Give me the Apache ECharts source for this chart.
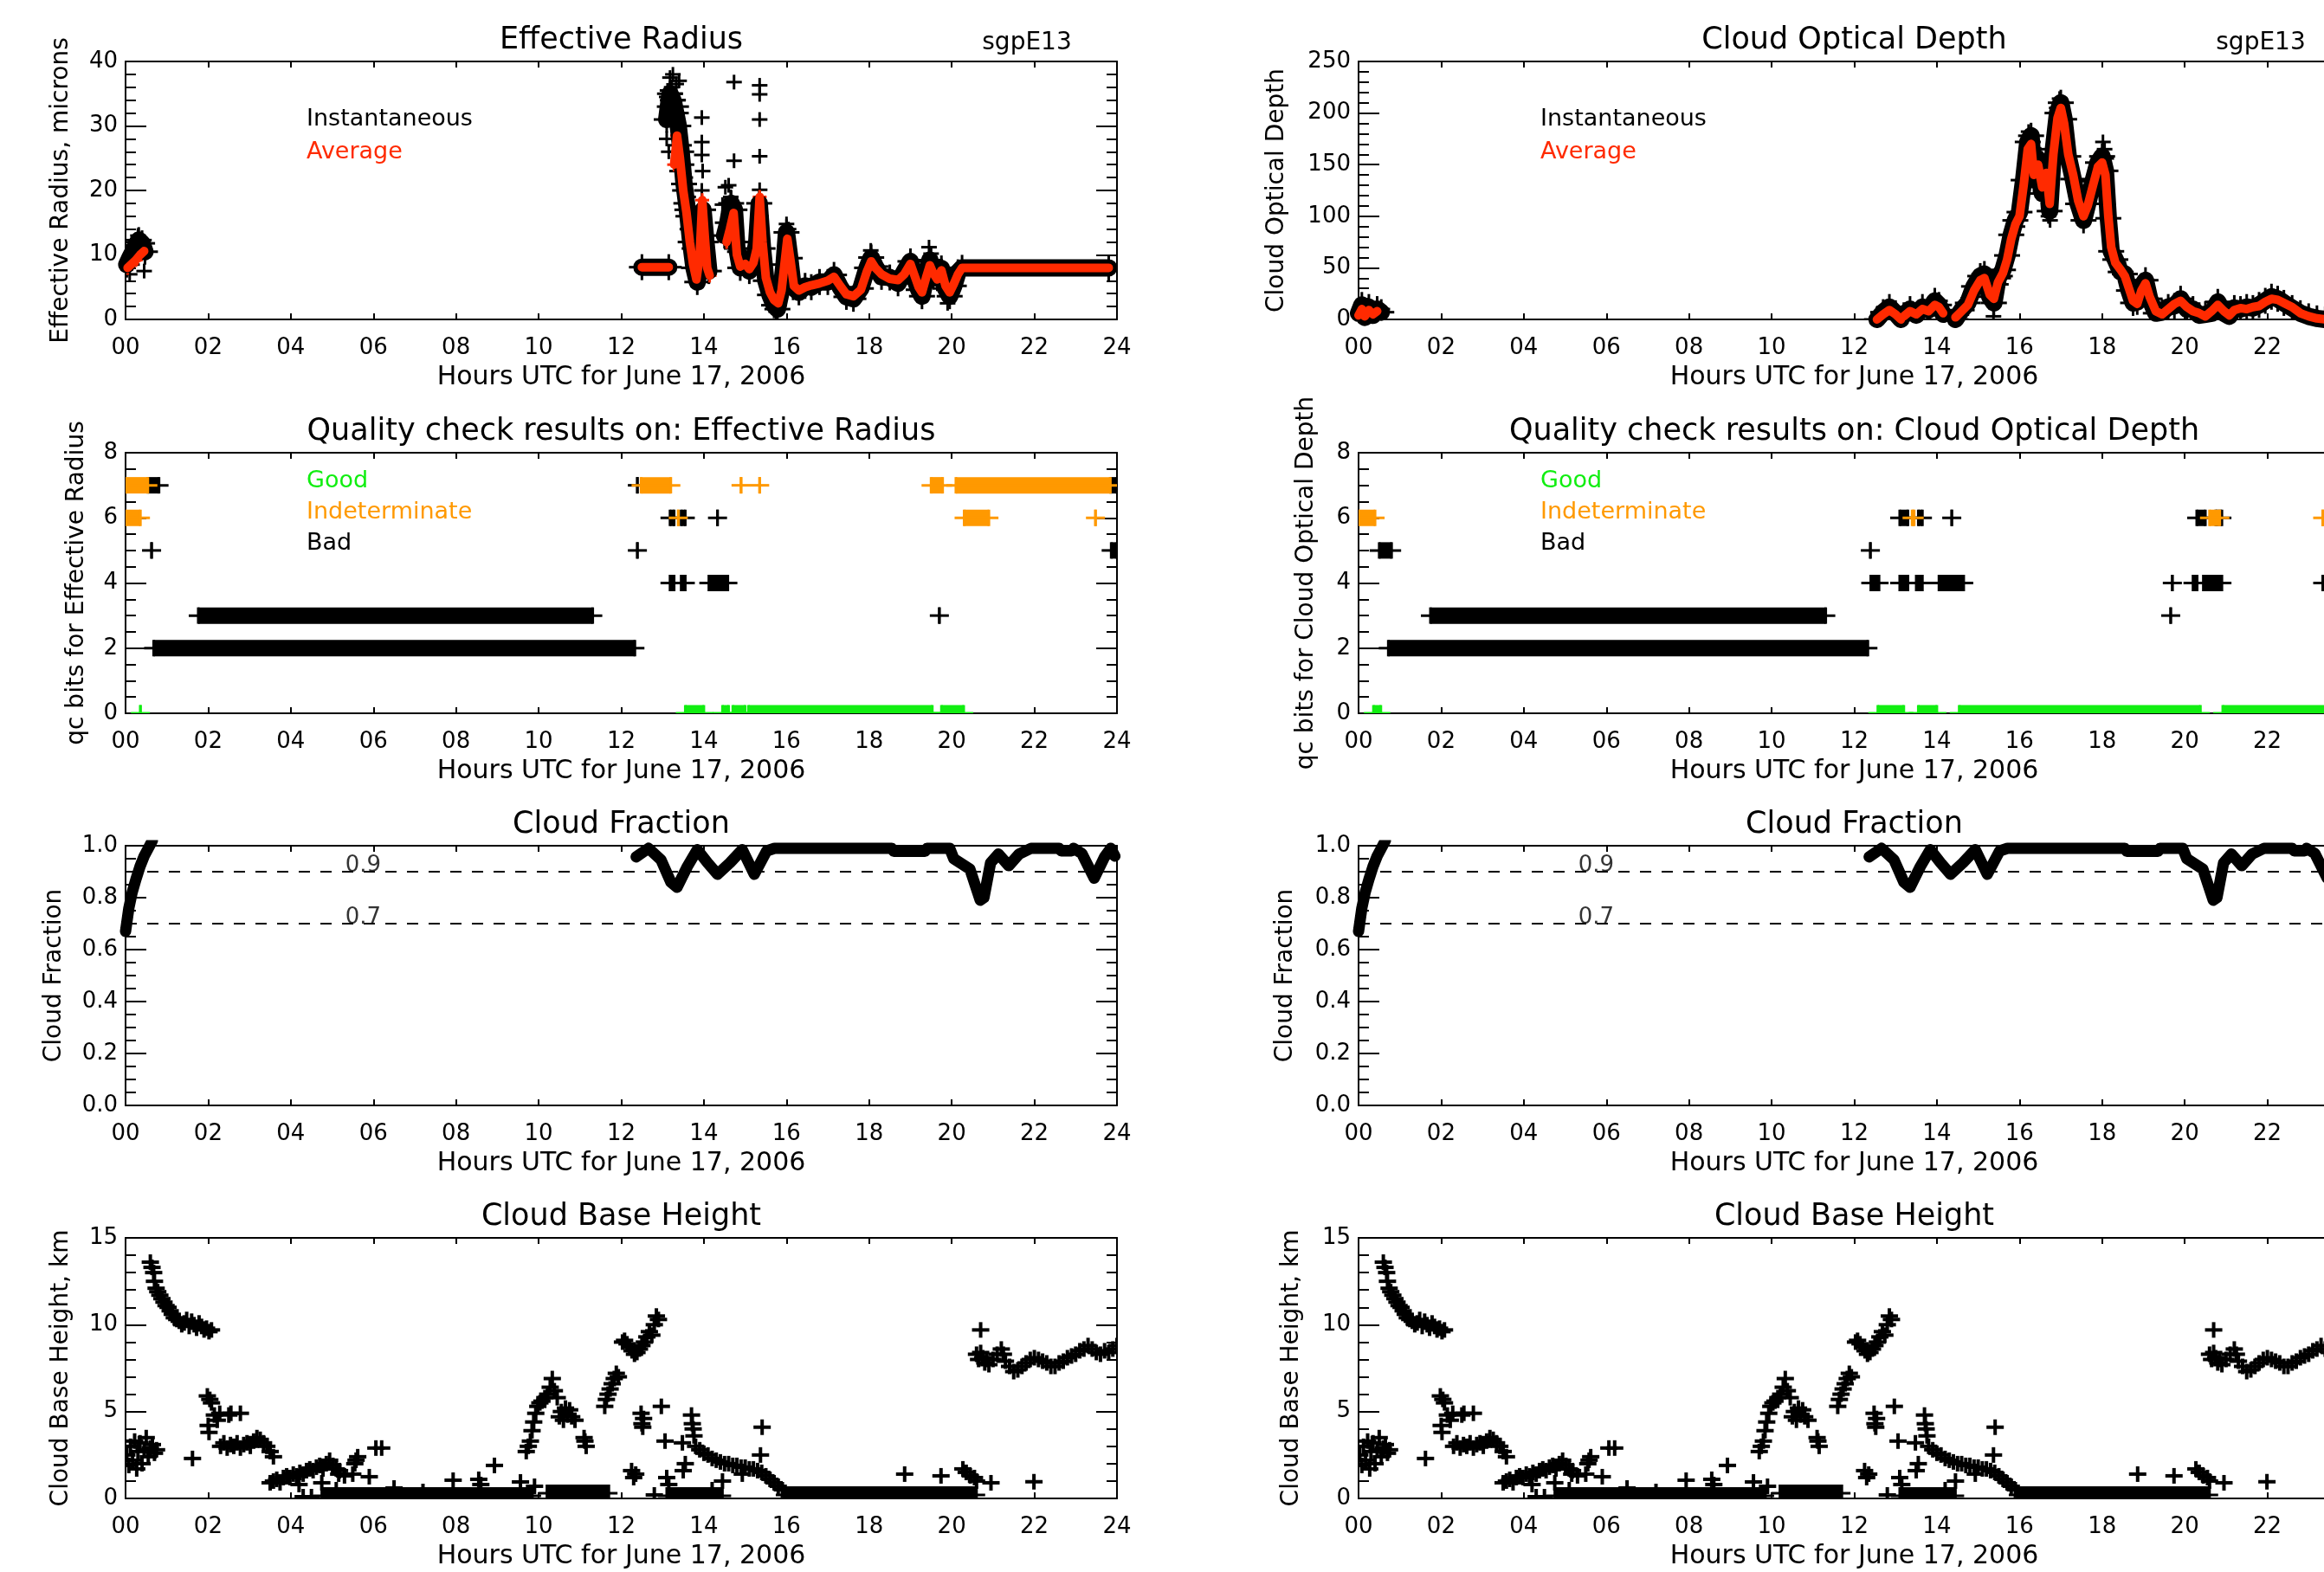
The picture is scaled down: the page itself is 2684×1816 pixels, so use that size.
<!DOCTYPE html>
<html>
<head>
<meta charset="utf-8">
<title>sgpE13 - June 17, 2006</title>
<script src="https://cdn.jsdelivr.net/npm/echarts@6/dist/echarts.min.js"></script>
<style>
html, body { margin: 0; padding: 0; background: #fff; }
#main { width: 2684px; height: 1816px; }
</style>
</head>
<body>
<div id="main"></div>
<script>
// ---- tick labels ----
const xTickLabels = ['00', '02', '04', '06', '08', '10', '12', '14', '16', '18', '20', '22', '24']

// ---- effective radius (microns), [hour, value] ----
const erInstSegments = [
  [[0.03, 8.5], [0.1, 9.5], [0.18, 10.5], [0.25, 11.5], [0.32, 12.3], [0.4, 11.8], [0.47, 10.5]],
  [[12.5, 8.1], [13.15, 8.1]],
  [[13.1, 31], [13.18, 35], [13.25, 34], [13.32, 32], [13.38, 30], [13.45, 26], [13.52, 21], [13.6, 17], [13.68, 12], [13.76, 8], [13.84, 5.8], [13.92, 10], [13.98, 17], [14.05, 12], [14.12, 7.5]],
  [[14.5, 13], [14.58, 15], [14.66, 18], [14.74, 17], [14.8, 11], [14.88, 8], [15.0, 8.8], [15.1, 7.5], [15.2, 9], [15.28, 12], [15.34, 18], [15.42, 11], [15.5, 6], [15.6, 3.8], [15.7, 2.2], [15.78, 1.6], [15.86, 4], [15.94, 8.5], [16.0, 13.5], [16.08, 9.5], [16.16, 5], [16.3, 4.2], [16.45, 5.2], [16.6, 5], [16.8, 5.8], [17.0, 5.8], [17.15, 6.9], [17.3, 5], [17.45, 3.5], [17.62, 3.2], [17.8, 4.8], [17.95, 8], [18.05, 9.6], [18.15, 8.2], [18.3, 6.6], [18.5, 6.5], [18.7, 5.6], [18.85, 7.4], [19.0, 9], [19.1, 6.4], [19.2, 4.6], [19.28, 3.6], [19.38, 6.8], [19.47, 9.2], [19.55, 6.8], [19.65, 6.4], [19.75, 7.9], [19.85, 4.8], [19.95, 3.6], [20.05, 5.2], [20.15, 7.3], [20.25, 8], [23.8, 8]]
]
const erInstCrosses = [
  [0.3, 13], [0.38, 12.2], [0.44, 11.5], [0.1, 7], [0.45, 7.5],
  [13.05, 33], [13.1, 34.5], [13.12, 35.5], [13.18, 37.5], [13.22, 36], [13.25, 38], [13.3, 35], [13.33, 36.5], [13.37, 34], [13.4, 37], [13.45, 33],
  [13.2, 32], [13.1, 28], [13.15, 26], [13.25, 30], [13.3, 27], [13.35, 23], [13.42, 20], [13.45, 18], [13.5, 16], [13.55, 22], [13.6, 14], [13.65, 11],
  [13.62, 19], [13.66, 16], [13.7, 13], [13.58, 24], [13.52, 27],
  [13.95, 31.3], [13.95, 27.5], [13.95, 25.5], [13.97, 23], [13.95, 20], [13.98, 15],
  [14.45, 17.8], [14.52, 20.5], [14.6, 20.8], [14.65, 19], [14.73, 36.8], [14.73, 24.6], [14.7, 13], [14.75, 10.5],
  [15.35, 36.3], [15.35, 34.9], [15.35, 31], [15.35, 25.3], [15.35, 20.1], [15.38, 16],
  [16.0, 14.8], [16.05, 14], [15.98, 11], [18.04, 10.7], [19.45, 11.2], [19.5, 10.2], [19.9, 2.5], [15.75, 1.2]
]
const erAvgSegments = [
  [[0.05, 8.0], [0.15, 8.6], [0.25, 9.2], [0.35, 10.0], [0.45, 10.6]],
  [[12.5, 8.1], [13.15, 8.1]],
  [[13.28, 24], [13.35, 28.5], [13.42, 25], [13.5, 20], [13.58, 16.5], [13.66, 12], [13.74, 8.5], [13.82, 6.2], [13.9, 10], [13.96, 18.5], [14.02, 13], [14.08, 8], [14.14, 6.8]],
  [[14.55, 12], [14.63, 14], [14.72, 16.5], [14.8, 10], [14.88, 8.2], [15.0, 8.6], [15.1, 7.8], [15.2, 8.8], [15.28, 11], [15.35, 19], [15.42, 12], [15.5, 6.5], [15.6, 4.2], [15.7, 3], [15.8, 2.5], [15.88, 4.5], [15.95, 8.5], [16.02, 12.5], [16.1, 9], [16.18, 5.2], [16.3, 4.5], [16.45, 5], [16.6, 5.3], [16.8, 5.6], [17.0, 6], [17.15, 6.6], [17.3, 5.2], [17.45, 3.9], [17.62, 3.6], [17.8, 4.6], [17.95, 7.5], [18.05, 9], [18.15, 8], [18.3, 7], [18.5, 6.3], [18.7, 6.1], [18.85, 7], [19.0, 8.6], [19.1, 6.8], [19.2, 5], [19.28, 4.2], [19.38, 6.5], [19.47, 8.4], [19.55, 7.2], [19.65, 6.2], [19.75, 7.6], [19.85, 5.2], [19.95, 4.2], [20.05, 5.5], [20.15, 7], [20.25, 8], [23.8, 8]]
]

// ---- cloud optical depth ----
const codInstSegments = [
  [[0.0, 6], [0.08, 14], [0.15, 2], [0.25, 12], [0.35, 4], [0.45, 10], [0.55, 7]],
  [[12.55, 0], [12.7, 7], [12.85, 12], [13.0, 6], [13.13, 0]],
  [[13.2, 4], [13.35, 10], [13.5, 4], [13.65, 12], [13.8, 9], [13.95, 18], [14.05, 14], [14.15, 5]],
  [[14.45, 0], [14.6, 9], [14.75, 16], [14.9, 32], [15.05, 42], [15.15, 44], [15.28, 22], [15.38, 16], [15.48, 40], [15.6, 48], [15.7, 62], [15.8, 82], [15.9, 96], [16.0, 104], [16.1, 135], [16.2, 172], [16.28, 178], [16.35, 135], [16.45, 155], [16.55, 122], [16.65, 146], [16.73, 105], [16.82, 165], [16.92, 200], [17.0, 210], [17.08, 194], [17.18, 158], [17.3, 136], [17.42, 112], [17.55, 96], [17.65, 112], [17.78, 134], [17.9, 152], [18.0, 158], [18.08, 144], [18.15, 98], [18.22, 66], [18.32, 58], [18.45, 46], [18.55, 44], [18.65, 28], [18.75, 16], [18.85, 17], [18.95, 32], [19.05, 38], [19.15, 20], [19.3, 6], [19.45, 7], [19.6, 12], [19.75, 13], [19.9, 20], [20.05, 10], [20.2, 10], [20.35, 4], [20.5, 5], [20.65, 6], [20.8, 17], [20.95, 6], [21.08, 3], [21.2, 11], [21.35, 10], [21.5, 12], [21.65, 11], [21.8, 14], [21.95, 18], [22.1, 22], [22.25, 20], [22.4, 16], [22.6, 11], [22.8, 6], [23.0, 3], [23.2, 1], [23.4, 0], [23.9, 0]]
]
const codInstCrosses = [
  [16.22, 182], [16.28, 176], [16.38, 162], [16.5, 160], [16.6, 150], [16.7, 100], [16.74, 96],
  [16.9, 205], [16.97, 214], [17.03, 210], [16.85, 178], [17.12, 182], [18.02, 172], [18.06, 165], [18.1, 156],
  [15.37, 3], [15.95, 90], [16.66, 116], [15.55, 34], [15.65, 42]
]
const codAvgSegments = [
  [[0.0, 4], [0.08, 10], [0.15, 3], [0.25, 9], [0.35, 5], [0.45, 8]],
  [[12.55, 0], [12.7, 5], [12.85, 9], [13.0, 5], [13.13, 0]],
  [[13.2, 3], [13.35, 8], [13.5, 5], [13.65, 10], [13.8, 8], [13.95, 14], [14.05, 12], [14.15, 6]],
  [[14.45, 2], [14.6, 8], [14.75, 14], [14.9, 28], [15.05, 38], [15.15, 40], [15.28, 24], [15.38, 20], [15.48, 36], [15.6, 45], [15.7, 58], [15.8, 78], [15.9, 92], [16.0, 100], [16.1, 130], [16.2, 165], [16.28, 170], [16.35, 140], [16.45, 150], [16.55, 128], [16.65, 142], [16.73, 112], [16.82, 160], [16.92, 195], [17.0, 205], [17.08, 190], [17.18, 160], [17.3, 140], [17.42, 115], [17.55, 100], [17.65, 110], [17.78, 130], [17.9, 148], [18.0, 152], [18.08, 140], [18.15, 100], [18.22, 70], [18.32, 55], [18.45, 48], [18.55, 42], [18.65, 30], [18.75, 18], [18.85, 15], [18.95, 28], [19.05, 35], [19.15, 22], [19.3, 8], [19.45, 5], [19.6, 10], [19.75, 15], [19.9, 18], [20.05, 12], [20.2, 8], [20.35, 6], [20.5, 3], [20.65, 8], [20.8, 14], [20.95, 8], [21.08, 4], [21.2, 9], [21.35, 11], [21.5, 10], [21.65, 12], [21.8, 13], [21.95, 17], [22.1, 20], [22.25, 19], [22.4, 16], [22.6, 12], [22.8, 6], [23.0, 3], [23.2, 1], [23.4, 0], [23.9, 0]]
]

// ---- qc bits: [start hour, end hour, bit] ----
const qcErBad = [[0.54, 0.81, 7], [12.39, 12.39, 7], [23.84, 24, 7], [13.18, 13.28, 6], [13.45, 13.55, 6], [14.33, 14.33, 6],
  [0.63, 0.63, 5], [12.39, 12.39, 5], [23.86, 24, 5], [13.18, 13.28, 4], [13.45, 13.55, 4], [14.12, 14.58, 4],
  [1.76, 11.31, 3], [19.7, 19.7, 3], [0.68, 12.33, 2]]
const qcErIndet = [[0, 0.54, 7], [12.48, 13.2, 7], [14.9, 14.9, 7], [15.35, 15.35, 7], [19.5, 19.78, 7], [20.1, 23.84, 7],
  [0, 0.36, 6], [13.38, 13.38, 6], [20.3, 20.9, 6], [23.48, 23.48, 6]]
const qcErGood = [[0.36, 0.36, 0], [13.55, 14.0, 0], [14.45, 14.6, 0], [14.7, 15.0, 0], [15.08, 19.53, 0], [19.75, 20.29, 0]]

const qcCodBad = [[0.5, 0.8, 5], [12.39, 12.39, 5], [13.1, 13.3, 6], [13.55, 13.65, 6], [14.36, 14.36, 6], [20.29, 20.5, 6], [20.75, 20.9, 6],
  [12.4, 12.6, 4], [13.1, 13.3, 4], [13.5, 13.65, 4], [14.05, 14.65, 4], [19.7, 19.7, 4], [20.2, 20.3, 4], [20.45, 20.9, 4], [23.34, 23.34, 4],
  [1.74, 11.31, 3], [19.66, 19.66, 3], [0.72, 12.33, 2]]
const qcCodIndet = [[0, 0.4, 6], [13.4, 13.45, 6], [20.6, 20.85, 6], [23.34, 23.34, 6]]
const qcCodGood = [[0.36, 0.54, 0], [12.57, 13.2, 0], [13.55, 14.0, 0], [14.54, 20.38, 0], [20.92, 24, 0]]

// ---- cloud fraction ----
const cfSegments = [
  [[0.0, 0.67], [0.08, 0.76], [0.16, 0.82], [0.25, 0.87], [0.35, 0.92], [0.45, 0.96], [0.55, 0.99], [0.65, 1.02]],
  [[12.36, 0.957], [12.66, 0.99], [12.96, 0.946], [13.2, 0.86], [13.35, 0.84], [13.6, 0.92], [13.84, 0.985], [14.09, 0.934], [14.33, 0.89], [14.63, 0.934], [14.93, 0.985], [15.22, 0.89], [15.52, 0.98], [15.71, 0.99], [18.55, 0.99], [18.6, 0.978], [19.35, 0.978], [19.4, 0.99], [19.95, 0.99], [20.05, 0.95], [20.44, 0.91], [20.69, 0.79], [20.78, 0.8], [20.94, 0.934], [21.13, 0.968], [21.38, 0.923], [21.63, 0.968], [21.92, 0.99], [22.6, 0.99], [22.65, 0.98], [22.9, 0.98], [22.95, 0.99], [23.15, 0.97], [23.45, 0.875], [23.7, 0.957], [23.85, 0.99], [23.95, 0.96]]
]
const cfThresholds = [0.9, 0.7]
const cfThresholdLabelHour = 5.75

// ---- cloud base height (km) ----
const cbhBands = [[4.75, 9.85, 0.15], [10.2, 11.7, 0.3], [13.1, 14.45, 0.15], [15.95, 20.6, 0.2]]
const cbhPoints = [
  [0.03, 2.5], [0.08, 1.9], [0.12, 3.0], [0.17, 2.2], [0.22, 3.3], [0.27, 1.7], [0.3, 2.7], [0.35, 3.2], [0.4, 2.0], [0.45, 2.8], [0.5, 3.5], [0.55, 2.4], [0.6, 2.9], [0.65, 3.1], [0.7, 2.6], [0.75, 2.8],
  [0.6, 13.6], [0.64, 13.3], [0.68, 13.0], [0.7, 12.5], [0.74, 12.1], [0.78, 11.9], [0.83, 11.7], [0.88, 11.5], [0.93, 11.3], [0.98, 11.1], [1.03, 11.0], [1.08, 10.8], [1.13, 10.6], [1.18, 10.4], [1.24, 10.3], [1.3, 10.2], [1.36, 10.0], [1.42, 10.1], [1.48, 10.3], [1.54, 9.9], [1.6, 10.2], [1.66, 10.0], [1.72, 9.8], [1.78, 10.1], [1.84, 9.9], [1.9, 9.7], [1.96, 9.8], [2.02, 9.6], [2.08, 9.7],
  [1.62, 2.3], [1.98, 5.9], [2.04, 5.7], [2.08, 5.5], [2.0, 4.2], [2.02, 3.8], [2.15, 4.8], [2.22, 4.5], [2.28, 4.9], [2.5, 4.8], [2.55, 4.9], [2.78, 4.9],
  [2.3, 3.0], [2.38, 3.2], [2.46, 2.9], [2.54, 3.1], [2.62, 3.0], [2.7, 3.2], [2.78, 2.9], [2.86, 3.1], [2.94, 3.2], [3.02, 3.0], [3.1, 3.3], [3.18, 3.5], [3.26, 3.4], [3.34, 3.2], [3.42, 3.0], [3.5, 2.7], [3.58, 2.4],
  [3.5, 0.9], [3.58, 1.0], [3.66, 1.1], [3.74, 0.9], [3.82, 1.2], [3.9, 1.3], [3.98, 1.2], [4.06, 1.4], [4.14, 1.3], [4.22, 1.5], [4.3, 1.4], [4.38, 1.6], [4.46, 1.7], [4.54, 1.6], [4.62, 1.8], [4.7, 1.9], [4.78, 1.7], [4.86, 2.0], [4.94, 2.2], [5.02, 1.9], [5.1, 1.7], [5.16, 1.4], [4.75, 0.9], [4.2, 0.8], [4.3, 0.1], [4.5, 0.1],
  [5.18, 1.6], [5.3, 1.3], [5.5, 1.4], [5.9, 1.25], [5.55, 2.0], [5.62, 2.4], [5.58, 2.2], [6.06, 2.9], [6.2, 2.9], [5.1, 0.5],
  [7.93, 1.05], [8.55, 1.1], [8.6, 0.8], [8.93, 1.9], [9.56, 0.95], [6.5, 0.6], [7.2, 0.4], [9.9, 0.7],
  [9.7, 2.7], [9.75, 3.0], [9.8, 3.3], [9.84, 3.9], [9.88, 4.4], [9.93, 4.9], [9.98, 5.3], [10.03, 5.5], [10.08, 5.6], [10.15, 5.8], [10.22, 6.0], [10.28, 6.4], [10.33, 6.9], [10.38, 6.2], [10.45, 5.8], [10.5, 4.7], [10.55, 5.0], [10.6, 4.5], [10.65, 5.2], [10.7, 4.8], [10.75, 5.1], [10.8, 4.7], [10.88, 4.5], [11.1, 3.5], [11.15, 3.0], [11.12, 3.3],
  [11.6, 5.3], [11.64, 5.7], [11.68, 6.0], [11.73, 6.3], [11.78, 6.6], [11.83, 6.9], [11.88, 7.2], [11.93, 7.0],
  [12.03, 9.0], [12.08, 9.1], [12.14, 8.9], [12.2, 8.7], [12.26, 8.5], [12.32, 8.3], [12.38, 8.4], [12.44, 8.6], [12.5, 8.8], [12.56, 9.0], [12.62, 9.3], [12.68, 9.6], [12.74, 9.4], [12.8, 10.0], [12.85, 10.5], [12.9, 10.3],
  [12.25, 1.6], [12.3, 1.2], [12.35, 1.4], [12.48, 4.9], [12.5, 4.3], [12.52, 4.1], [12.54, 4.6], [12.97, 5.3], [13.06, 3.3], [13.1, 1.2], [13.15, 0.8], [13.5, 1.6], [13.55, 2.0], [13.7, 4.8], [13.72, 4.3], [13.74, 4.0], [13.76, 3.6], [13.48, 3.2], [12.8, 0.2],
  [13.8, 3.0], [13.9, 2.8], [14.0, 2.6], [14.1, 2.5], [14.2, 2.3], [14.3, 2.2], [14.4, 2.1], [14.5, 2.0], [14.6, 2.0], [14.7, 1.9], [14.8, 1.9], [14.9, 1.8], [15.0, 1.8], [15.1, 1.7], [15.2, 1.7], [15.3, 1.6], [15.4, 1.5], [15.5, 1.3], [15.6, 1.1], [15.7, 0.9], [15.8, 0.7], [15.9, 0.5],
  [15.41, 4.1], [15.37, 2.5], [14.93, 1.4], [14.45, 1.0], [14.2, 0.5],
  [18.86, 1.4], [19.74, 1.3], [20.27, 1.7], [20.35, 1.5], [20.45, 1.3], [20.55, 1.2], [20.6, 1.0], [20.95, 0.9], [21.99, 0.96],
  [20.7, 9.7], [20.6, 8.3], [20.65, 8.0], [20.7, 8.4], [20.75, 8.1], [20.8, 7.8], [20.85, 8.0], [20.9, 7.7], [21.0, 8.0], [21.1, 8.3], [21.2, 8.6], [21.25, 8.3], [21.3, 7.9], [21.4, 7.6], [21.5, 7.3], [21.6, 7.4], [21.7, 7.6], [21.8, 7.8], [21.9, 8.0], [22.0, 8.1], [22.1, 8.0], [22.2, 7.9], [22.3, 7.8], [22.4, 7.6], [22.5, 7.6], [22.6, 7.8], [22.7, 7.9], [22.8, 8.1], [22.9, 8.2], [23.0, 8.3], [23.1, 8.5], [23.2, 8.6], [23.3, 8.8], [23.4, 8.6], [23.5, 8.4], [23.6, 8.3], [23.7, 8.5], [23.8, 8.4], [23.9, 8.6], [24.0, 8.8]
]

const FONT = 'DejaVu Sans, sans-serif'
const RED = '#ff2a00'
const ORANGE = '#ff9900'
const GREEN = '#11ee11'

// panel layout: column x, row y
const colLeft = [145, 1569]
const plotWidth = 1145
const rowTop = [71, 523, 977, 1430]
const rowHeight = [298, 301, 300, 301]

const panels = [
  { col: 0, row: 0, title: 'Effective Radius', yName: 'Effective Radius, microns', max: 40, step: 10, minor: 5, gap: 60 },
  { col: 1, row: 0, title: 'Cloud Optical Depth', yName: 'Cloud Optical Depth', max: 250, step: 50, minor: 5, gap: 80 },
  { col: 0, row: 1, title: 'Quality check results on: Effective Radius', yName: 'qc bits for Effective Radius', max: 8, step: 2, minor: 4, gap: 42 },
  { col: 1, row: 1, title: 'Quality check results on: Cloud Optical Depth', yName: 'qc bits for Cloud Optical Depth', max: 8, step: 2, minor: 4, gap: 46 },
  { col: 0, row: 2, title: 'Cloud Fraction', yName: 'Cloud Fraction', max: 1, step: 0.2, minor: 4, gap: 68, dec: 1 },
  { col: 1, row: 2, title: 'Cloud Fraction', yName: 'Cloud Fraction', max: 1, step: 0.2, minor: 4, gap: 70, dec: 1 },
  { col: 0, row: 3, title: 'Cloud Base Height', yName: 'Cloud Base Height, km', max: 15, step: 5, minor: 5, gap: 60 },
  { col: 1, row: 3, title: 'Cloud Base Height', yName: 'Cloud Base Height, km', max: 15, step: 5, minor: 5, gap: 63 }
]

function joinSegments (segs) {
  const out = []
  segs.forEach((s, i) => {
    if (i > 0) out.push([s[0][0], '-'])
    out.push(...s)
  })
  return out
}

// plus-shaped marks, clipped to the grid
function plusRenderer (w, h, t) {
  return function (params, api) {
    const p = api.coord([api.value(0), api.value(1)])
    const c = api.visual('color')
    return {
      type: 'group',
      children: [
        { type: 'rect', shape: { x: p[0] - w / 2, y: p[1] - t / 2, width: w, height: t }, style: { fill: c } },
        { type: 'rect', shape: { x: p[0] - t / 2, y: p[1] - h / 2, width: t, height: h }, style: { fill: c } }
      ]
    }
  }
}

// runs of overlapping plus marks: [start, end, level]
function bandRenderer (h, arm, t) {
  return function (params, api) {
    const a = api.coord([api.value(0), api.value(2)])
    const b = api.coord([api.value(1), api.value(2)])
    const c = api.visual('color')
    const ch = []
    if (b[0] - a[0] > 0.5) {
      ch.push({ type: 'rect', shape: { x: a[0], y: a[1] - h / 2, width: b[0] - a[0], height: h }, style: { fill: c } })
    }
    ch.push({ type: 'rect', shape: { x: a[0] - arm, y: a[1] - t / 2, width: b[0] - a[0] + 2 * arm, height: t }, style: { fill: c } })
    ch.push({ type: 'rect', shape: { x: a[0] - t / 2, y: a[1] - h / 2, width: t, height: h }, style: { fill: c } })
    ch.push({ type: 'rect', shape: { x: b[0] - t / 2, y: a[1] - h / 2, width: t, height: h }, style: { fill: c } })
    return { type: 'group', children: ch }
  }
}

const grids = []
const xAxes = []
const yAxes = []
const graphics = []

panels.forEach((p, i) => {
  grids.push({
    left: colLeft[p.col], top: rowTop[p.row], width: plotWidth, height: rowHeight[p.row],
    containLabel: false, outerBoundsMode: 'none'
  })
  const axisLine = { show: true, onZero: false, lineStyle: { color: '#000', width: 2 } }
  const xBase = {
    gridIndex: i, type: 'value', min: 0, max: 24, interval: 2,
    axisLine: axisLine,
    axisTick: { show: true, inside: true, length: 7, lineStyle: { color: '#000', width: 2 } },
    splitLine: { show: false }
  }
  xAxes.push(Object.assign({}, xBase, {
    position: 'bottom',
    axisLabel: { margin: 20, fontSize: 26, color: '#000', fontFamily: FONT, formatter: v => xTickLabels[Math.round(v / 2)] },
    name: 'Hours UTC for June 17, 2006',
    nameLocation: 'middle',
    nameGap: 52,
    nameTextStyle: { fontSize: 30, color: '#000', fontFamily: FONT }
  }))
  xAxes.push(Object.assign({}, xBase, { position: 'top', axisLabel: { show: false } }))

  const yBase = {
    gridIndex: i, type: 'value', min: 0, max: p.max, interval: p.step,
    axisLine: axisLine,
    axisTick: { show: true, inside: true, length: 24, lineStyle: { color: '#000', width: 2 } },
    minorTick: { show: true, splitNumber: p.minor, length: 12, lineStyle: { color: '#000', width: 2 } },
    splitLine: { show: false },
    minorSplitLine: { show: false }
  }
  yAxes.push(Object.assign({}, yBase, {
    position: 'left',
    axisLabel: { margin: 9, fontSize: 26, color: '#000', fontFamily: FONT, formatter: v => p.dec ? v.toFixed(p.dec) : String(v) },
    name: p.yName,
    nameLocation: 'middle',
    nameGap: p.gap,
    nameTextStyle: { fontSize: 28, color: '#000', fontFamily: FONT }
  }))
  yAxes.push(Object.assign({}, yBase, { position: 'right', axisLabel: { show: false } }))

  graphics.push({
    type: 'text',
    x: colLeft[p.col] + plotWidth / 2,
    y: rowTop[p.row] - 24,
    style: { text: p.title, font: '35px ' + FONT, fill: '#000', align: 'center', verticalAlign: 'middle', textAlign: 'center', textVerticalAlign: 'middle' }
  })
})

// station id and colour keys
const textItems = [
  { t: 'sgpE13', x: 1186, y: 50, c: '#000', align: 'center', size: 28 },
  { t: 'sgpE13', x: 2611, y: 50, c: '#000', align: 'center', size: 28 },
  { t: 'Instantaneous', x: 354, y: 138, c: '#000' },
  { t: 'Average', x: 354, y: 176, c: RED },
  { t: 'Instantaneous', x: 1779, y: 138, c: '#000' },
  { t: 'Average', x: 1779, y: 176, c: RED },
  { t: 'Good', x: 354, y: 556, c: GREEN },
  { t: 'Indeterminate', x: 354, y: 592, c: ORANGE },
  { t: 'Bad', x: 354, y: 628, c: '#000' },
  { t: 'Good', x: 1779, y: 556, c: GREEN },
  { t: 'Indeterminate', x: 1779, y: 592, c: ORANGE },
  { t: 'Bad', x: 1779, y: 628, c: '#000' }
]
textItems.forEach(d => {
  const al = d.align || 'left'
  graphics.push({
    type: 'text', x: d.x, y: d.y,
    style: { text: d.t, font: (d.size || 27) + 'px ' + FONT, fill: d.c, align: al, verticalAlign: 'middle', textAlign: al, textVerticalAlign: 'middle' }
  })
})

const series = []
function lineS (gi, data, color, width) {
  series.push({
    type: 'line', xAxisIndex: 2 * gi, yAxisIndex: 2 * gi, data: data,
    showSymbol: false, symbol: 'none', clip: true, animation: false,
    lineStyle: { color: color, width: width, join: 'round', cap: 'round' }
  })
}
function plusS (gi, data, color, w, h, t) {
  series.push({
    type: 'custom', xAxisIndex: 2 * gi, yAxisIndex: 2 * gi, data: data, clip: true,
    encode: { x: 0, y: 1 }, itemStyle: { color: color },
    renderItem: plusRenderer(w, h, t || 3)
  })
}
function bandS (gi, data, color, h, arm) {
  series.push({
    type: 'custom', xAxisIndex: 2 * gi, yAxisIndex: 2 * gi, data: data, clip: true,
    encode: { x: [0, 1], y: 2 }, itemStyle: { color: color },
    renderItem: bandRenderer(h, arm, 3)
  })
}

const flat = segs => segs.reduce((a, s) => a.concat(s), [])

// effective radius
lineS(0, joinSegments(erInstSegments), '#000', 20)
plusS(0, flat(erInstSegments), '#000', 30, 30)
plusS(0, erInstCrosses, '#000', 18, 17)
lineS(0, joinSegments(erAvgSegments), RED, 10)
plusS(0, flat(erAvgSegments), RED, 16, 16)
// optical depth
lineS(1, joinSegments(codInstSegments), '#000', 20)
plusS(1, flat(codInstSegments), '#000', 30, 30)
plusS(1, codInstCrosses, '#000', 18, 17)
lineS(1, joinSegments(codAvgSegments), RED, 10)
plusS(1, flat(codAvgSegments), RED, 16, 16)
// qc bits
bandS(2, qcErBad, '#000', 19, 11)
bandS(2, qcErIndet, ORANGE, 19, 11)
bandS(2, qcErGood, GREEN, 19, 11)
bandS(3, qcCodBad, '#000', 19, 11)
bandS(3, qcCodIndet, ORANGE, 19, 11)
bandS(3, qcCodGood, GREEN, 19, 11)
// cloud fraction and base height, both columns
;[4, 5].forEach(gi => {
  cfThresholds.forEach(v => {
    series.push({
      type: 'line', xAxisIndex: 2 * gi, yAxisIndex: 2 * gi, data: [[0, v], [24, v]],
      symbol: 'none', animation: false,
      lineStyle: { color: '#000', width: 2, type: [13, 12] }
    })
  })
  series.push({
    type: 'scatter', xAxisIndex: 2 * gi, yAxisIndex: 2 * gi, symbolSize: 1,
    data: cfThresholds.map(v => [cfThresholdLabelHour, v]),
    itemStyle: { color: 'transparent' },
    label: { show: true, position: 'inside', offset: [0, -7], formatter: d => d.value[1].toFixed(1), fontSize: 26, color: '#000', fontFamily: FONT }
  })
  lineS(gi, joinSegments(cfSegments), '#000', 13)
})
;[6, 7].forEach(gi => {
  bandS(gi, cbhBands, '#000', 20, 10)
  plusS(gi, cbhPoints, '#000', 20, 18, 4)
})

const chart = echarts.init(document.getElementById('main'))
chart.setOption({
  backgroundColor: '#fff',
  animation: false,
  grid: grids,
  xAxis: xAxes,
  yAxis: yAxes,
  graphic: graphics,
  series: series
})
</script>
</body>
</html>
